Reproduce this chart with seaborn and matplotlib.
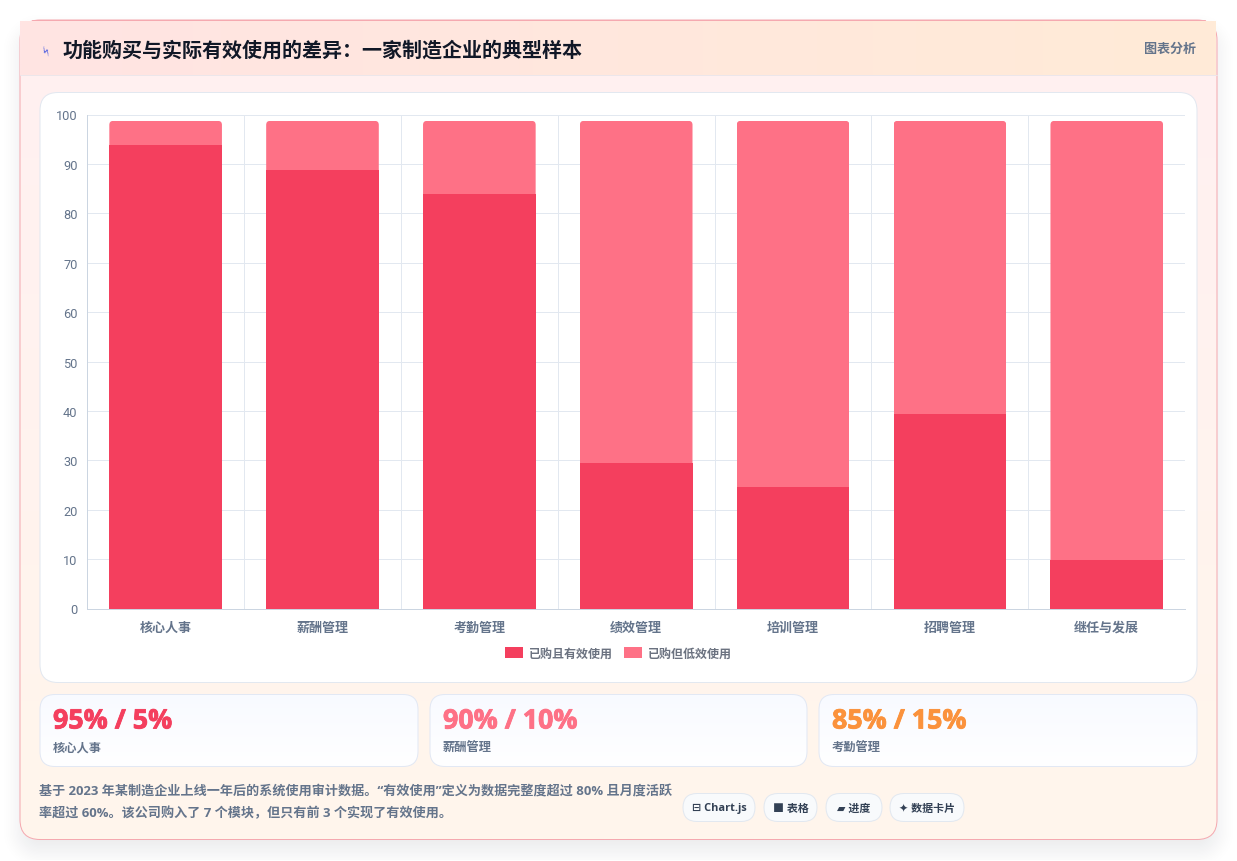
import numpy as np
import pandas as pd
import matplotlib
matplotlib.use("Agg")
import matplotlib.pyplot as plt
import matplotlib.patheffects as pe
from matplotlib.patches import FancyBboxPatch
from matplotlib.colors import to_rgb
import seaborn as sns

# ---- data ----
modules = ["核心人事", "薪酬管理", "考勤管理", "绩效管理", "培训管理", "招聘管理", "继任与发展"]
effective = [95, 90, 85, 30, 25, 40, 10]
low_use = [5, 10, 15, 70, 75, 60, 90]
series_names = ["已购且有效使用", "已购但低效使用"]
stat_values = ["95% / 5%", "90% / 10%", "85% / 15%"]
stat_names = ["核心人事", "薪酬管理", "考勤管理"]
tick_values = list(range(0, 101, 10))
title = "功能购买与实际有效使用的差异\uff1a一家制造企业的典型样本"
badge = "图表分析"
note_lines = ["基于 2023 年某制造企业上线一年后的系统使用审计数据。“有效使用”定义为数据完整度超过 80% 且月度活跃",
              "率超过 60%。该公司购入了 7 个模块\uff0c但只有前 3 个实现了有效使用。"]
chips = ["⊟ Chart.js", "■ 表格", "▰ 进度", "✦ 数据卡片"]

W, H = 1237, 862
PX = 0.72  # one pixel expressed in points at 100 dpi
RED, PINK, ORANGE = "#f43f5e", "#fe7186", "#fb923c"
SLATE = "#64748b"
FONT = ["Noto Sans CJK SC", "DejaVu Sans"]
LATIN = ["Open Sans", "Noto Sans CJK SC", "DejaVu Sans"]

sns.set_theme(style="white")
plt.rcParams["font.family"] = FONT

fig = plt.figure(figsize=(W / 100, H / 100), dpi=100, facecolor="white")

# pixel-space canvas behind everything
bg = fig.add_axes([0, 0, 1, 1], zorder=0)
bg.axis("off")


def rounded(x0, y0, x1, y1, r, **kw):
    return FancyBboxPatch((x0 + r, y0 + r), x1 - x0 - 2 * r, y1 - y0 - 2 * r,
                          boxstyle=f"round,pad={r},rounding_size={r}", **kw)


def gradient(x0, y0, x1, y1, c0, c1, horizontal, clip=None, zorder=1):
    t = np.linspace(0, 1, 256)
    a, b = np.array(to_rgb(c0)), np.array(to_rgb(c1))
    img = a[None, :] * (1 - t[:, None]) + b[None, :] * t[:, None]
    img = img[None, :, :] if horizontal else img[:, None, :]
    im = bg.imshow(img, extent=(x0, x1, y1, y0), aspect="auto", zorder=zorder,
                   interpolation="bilinear")
    if clip is not None:
        im.set_clip_path(clip)
    return im


# soft drop shadow under the main card
yy, xx = np.mgrid[0:H, 0:W] + 0.5
qx = np.abs(xx - (20 + 1217) / 2) - (1217 - 20) / 2 + 20
qy = np.abs(yy - (32 + 852) / 2) - (852 - 32) / 2 + 20
dist = np.hypot(np.maximum(qx, 0), np.maximum(qy, 0)) + np.minimum(np.maximum(qx, qy), 0) - 20
shadow = np.clip(0.5 - dist / 44, 0, 1)
shadow = shadow * shadow * (3 - 2 * shadow) * 0.09
shadow[-1:, :] = 0
rgba = np.zeros((H, W, 4))
rgba[..., :3] = 0.06, 0.09, 0.16
rgba[..., 3] = shadow
bg.imshow(rgba, extent=(0, W, H - 0.5, -0.5), aspect="auto", zorder=0.5)

# main card
card_clip = rounded(20, 20.5, 1217, 840, 20, transform=bg.transData)
gradient(20, 21, 1217, 840, "#fff0f1", "#fff6ec", False, clip=card_clip, zorder=1)
gradient(20, 21, 1216, 75, "#ffe4e3", "#ffebd7", True, zorder=1.2)
bg.add_patch(rounded(20, 20.5, 1217, 840, 20, fc="none", ec="#f5a9b0", lw=PX, zorder=1.1))
bg.plot([32, 1205], [20.5, 20.5], color="#f5a9b0", lw=PX, zorder=1.3)
bg.plot([20, 1217], [75, 75], color="#ece6ea", lw=PX, zorder=1.3)

bg.text(47, 50, "⚡", color="#4f5fe0", fontsize=9, rotation=60, ha="center", va="center",
        family=["DejaVu Sans"], zorder=3)
bg.text(62, 49.5, title, color="#111827", fontsize=14.4, fontweight="bold", va="center", zorder=3)
bg.text(1196, 48, badge, color=SLATE, fontsize=9.4, fontweight="bold", ha="right", va="center", zorder=3)

# chart panel
bg.add_patch(rounded(40, 93, 1197, 683, 18, fc="white", ec="#e2e8f0", lw=PX, zorder=2))

# stat cards
for (x0, x1), value, name, col in zip([(40, 418), (430, 807), (819, 1197)], stat_values, stat_names,
                                      [RED, PINK, ORANGE]):
    clip = rounded(x0, 695, x1, 767, 15, transform=bg.transData)
    gradient(x0, 695, x1, 767, "#f8faff", "#ffffff", False, clip=clip, zorder=2)
    bg.add_patch(rounded(x0, 695, x1, 767, 15, fc="none", ec="#e2e8f4", lw=PX, zorder=2.1))
    bg.text(x0 + 13, 722, value, color=col, fontsize=19.3, fontweight="bold",
            family=["Open Sans", "DejaVu Sans"], va="center", zorder=3,
            path_effects=[pe.withStroke(linewidth=0.6, foreground=col)])
    bg.text(x0 + 13, 747.5, name, color=SLATE, fontsize=8.8, va="center", fontweight="bold", zorder=3)

# footnote and technology chips
for y, line in zip([792, 813], note_lines):
    bg.text(39, y, line, color=SLATE, fontsize=9.42, fontweight="bold", family=LATIN, va="center", zorder=3)
for (x0, x1), chip in zip([(683, 755), (764, 817), (826, 882), (890, 964)], chips):
    bg.add_patch(rounded(x0, 794, x1, 822, 14, fc="#f8fafc", ec="#e2e8f0", lw=PX, zorder=2))
    bg.text((x0 + x1) / 2, 808.5, chip, color="#334155", fontsize=7.9, fontweight="bold",
            family=LATIN, ha="center", va="center", zorder=3)

bg.set_xlim(0, W)
bg.set_ylim(H - 0.5, -0.5)

# plot area: the grid axis spans 0-100, the bar axis sits half a pixel lower
grid_rect = [87.2 / W, 1 - 609.5 / H, (1185 - 87) / W, (609 - 115) / H]
bar_rect = [87.2 / W, 1 - 610 / H, (1185 - 87) / W, (609 - 115) / H]
ax_grid = fig.add_axes(grid_rect, zorder=1)
ax_bar = fig.add_axes(bar_rect, zorder=2, sharex=ax_grid)

df = pd.DataFrame({"module": modules, "effective": effective, "low": low_use})
sns.barplot(data=df, x="module", y="effective", color=RED, saturation=1, width=0.718,
            linewidth=0, edgecolor="none", label=series_names[0], ax=ax_bar)
n_first = len(ax_bar.patches)
sns.barplot(data=df, x="module", y="low", bottom=df["effective"], color=PINK, saturation=1,
            width=0.718, linewidth=0, edgecolor="none", label=series_names[1], ax=ax_bar)

# the bars run on a slightly wider value range than the printed ticks
ax_bar.set_xlim(-0.5, len(modules) - 0.5)
ax_bar.set_ylim(0, 101.2)
ax_bar.patch.set_visible(False)
ax_bar.set(xlabel="", ylabel="")
ax_bar.grid(False)
for s in ax_bar.spines.values():
    s.set_visible(False)
ax_bar.tick_params(which="both", left=False, labelleft=False, bottom=False, labelbottom=False)

# round only the top corners of the upper segments
for bar in ax_bar.patches[n_first:]:
    (px0, py0), (px1, py1) = bg.transData.inverted().transform(
        ax_bar.transData.transform([(bar.get_x(), bar.get_y()),
                                    (bar.get_x() + bar.get_width(), bar.get_y() + bar.get_height())]))
    bar.set_clip_path(rounded(px0, py1, px1, py0 + 30, 4, transform=bg.transData))

ax_grid.set_ylim(0, 100)
ax_grid.set_yticks(tick_values)
ax_grid.set_xticks(range(len(modules)))
ax_grid.set_xticklabels(modules)
ax_grid.set_xticks(np.arange(-0.5, len(modules) - 1), minor=True)
ax_grid.set_axisbelow(True)
ax_grid.grid(True, axis="y", which="major", color="#e2e8f0", lw=PX)
ax_grid.grid(True, axis="x", which="minor", color="#e2e8f0", lw=PX)
ax_grid.grid(False, axis="x", which="major")
ax_grid.tick_params(axis="y", length=5.5, width=PX, color="#e2e8f0", labelcolor=SLATE, labelsize=9.2, pad=1.5)
ax_grid.tick_params(axis="x", which="major", length=0, labelcolor=SLATE, labelsize=9.36, pad=8)
ax_grid.tick_params(axis="x", which="minor", length=5.8, width=PX, color="#e2e8f0")
for lab in ax_grid.get_yticklabels():
    lab.set_family(["Roboto", "DejaVu Sans"])
for lab in ax_grid.get_xticklabels():
    lab.set_fontweight("bold")
for side, s in ax_grid.spines.items():
    s.set_visible(side in ("left", "bottom"))
    s.set_color("#cbd5e1")
    s.set_linewidth(PX)

handles = [ax_bar.patches[0], ax_bar.patches[n_first]]
leg = ax_bar.legend(handles, series_names, ncol=2, frameon=False, loc="center",
                    bbox_to_anchor=(618.5 / W, 1 - 654 / H), bbox_transform=fig.transFigure,
                    prop={"size": 8.64, "weight": "bold", "family": FONT},
                    handlelength=1.5, handleheight=0.95, handletextpad=0.5,
                    columnspacing=0.85, labelcolor="#6b7280")

fig.savefig("out.png", dpi=100)
